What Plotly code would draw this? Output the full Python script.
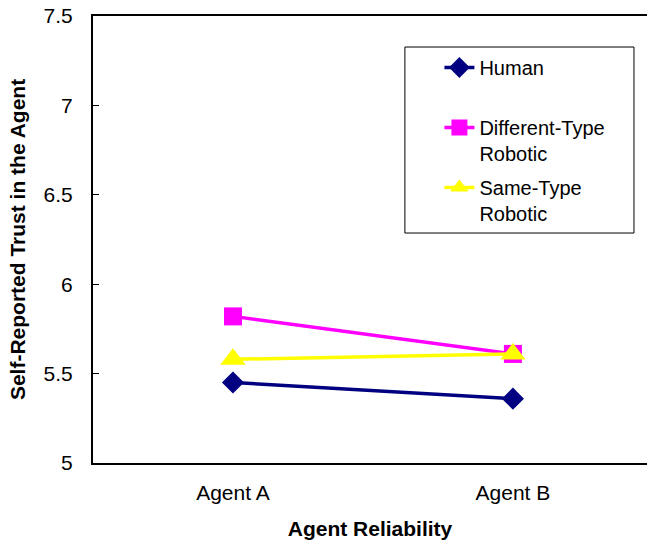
import plotly.graph_objects as go

# Mean self-reported trust by agent reliability condition
agents = ["Agent A", "Agent B"]
human = [5.45, 5.36]
different_type = [5.82, 5.61]
same_type = [5.58, 5.61]

y_ticks = [5, 5.5, 6, 6.5, 7, 7.5]
y_tick_text = ["5", "5.5", "6", "6.5", "7", "7.5"]

font = "Arial, Liberation Sans, sans-serif"

fig = go.Figure()
fig.add_trace(go.Scatter(
    x=agents, y=human, name="Human<br> ", mode="lines+markers", legendgroup="h",
    line=dict(color="#000080", width=3.5),
    marker=dict(symbol="diamond", size=17, color="#000080"),
))
fig.add_trace(go.Scatter(
    x=agents, y=different_type, name="Different-Type<br>Robotic", mode="lines+markers",
    legendgroup="d",
    line=dict(color="#FF00FF", width=3.5),
    marker=dict(symbol="square", size=18, color="#FF00FF"),
))
fig.add_trace(go.Scatter(
    x=agents, y=same_type, name="Same-Type<br>Robotic", mode="lines+markers",
    legendgroup="s",
    line=dict(color="#FFFF00", width=3.5),
    marker=dict(symbol="triangle-up", size=22, color="#FFFF00"),
))

# legend frame
fig.add_shape(type="rect", xref="paper", yref="paper",
              x0=0.563, x1=0.9765, y0=0.5145, y1=0.9306,
              line=dict(color="black", width=1), fillcolor="rgba(0,0,0,0)")

fig.update_layout(
    width=647, height=544,
    margin=dict(l=93, r=0, t=16, b=81),
    paper_bgcolor="white", plot_bgcolor="white",
    font=dict(family=font, size=21, color="black"),
    showlegend=True,
    legend=dict(x=0.6253, y=0.9284, xanchor="left", yanchor="top",
                bgcolor="rgba(0,0,0,0)", borderwidth=0, valign="top",
                font=dict(size=20), tracegroupgap=5),
    xaxis=dict(
        type="category", range=[-0.5, 1.479],
        showline=True, linecolor="black", linewidth=2, mirror=True,
        ticks="", showgrid=False, zeroline=False,
        ticklabelstandoff=10,
        title=dict(text="<b>Agent Reliability</b>", font=dict(size=21), standoff=18),
    ),
    yaxis=dict(
        range=[5, 7.5], tickvals=y_ticks, ticktext=y_tick_text,
        showline=True, linecolor="black", linewidth=2, mirror=False,
        ticks="inside", ticklen=6, tickcolor="black", tickwidth=1,
        showgrid=False, zeroline=False, ticklabelstandoff=14,
        title=dict(text="<b>Self-Reported Trust in the Agent</b>", font=dict(size=21), standoff=12),
    ),
)

fig.write_html("out.html")
